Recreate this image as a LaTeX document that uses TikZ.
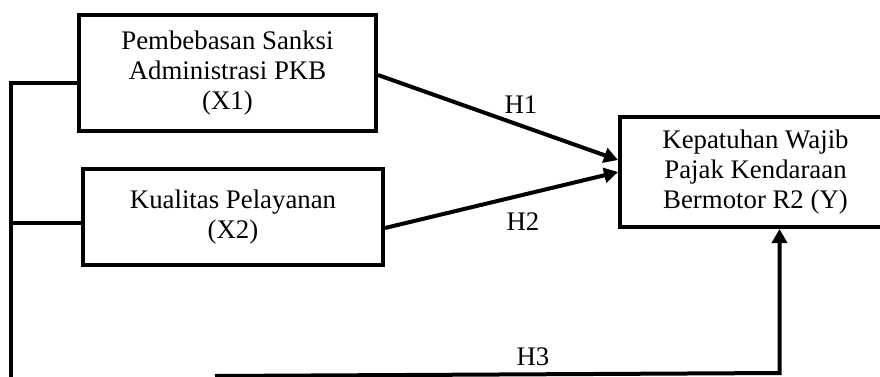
\documentclass[tikz,border=0pt]{standalone}
\usepackage{fontspec}
\setmainfont{Liberation Serif}
\usetikzlibrary{arrows.meta}
\begin{document}
\begin{tikzpicture}[x=1pt,y=-1pt,
  varbox/.style={draw, line width=4pt, align=center, inner sep=0pt,
    font=\fontsize{26.8}{30}\selectfont},
  conn/.style={line width=4pt},
  arr/.style={conn, -{Triangle[length=14pt,width=15pt]}},
  lbl/.style={font=\fontsize{26.8}{30}\selectfont, inner sep=0pt, align=center}]
\useasboundingbox (0,0) rectangle (880,376);
\clip (0,0) rectangle (880,376);
\node[varbox, minimum width=297pt, minimum height=116pt] (x1) at (227.5,73)
  {Pembebasan Sanksi\\Administrasi PKB\\(X1)};
\node[varbox, minimum width=300pt, minimum height=96pt] (x2) at (233,217)
  {Kualitas Pelayanan\\(X2)};
\node[varbox, minimum width=300pt, minimum height=110pt] (y) at (770,172) {};
\node[lbl] (yt) at (755.5,172) {Kepatuhan Wajib\\Pajak Kendaraan\\Bermotor R2 (Y)};
\coordinate (lb) at (10.5,380);
\coordinate (b1) at (215,376);
\coordinate (b2) at (779.5,373);
\draw[conn] ([yshift=-9.5pt]x1.west) -| (lb);
\draw[conn] ([yshift=-6pt]x2.west) -- ([yshift=-6pt]x2.west -| lb);
\draw[arr] ([yshift=-2pt]x1.east) -- ([yshift=12pt]y.west);
\draw[arr] ([yshift=-11pt]x2.east) -- (y.west);
\draw[arr] (b1) -- (b2) -- (b2 |- y.south);
\node[lbl] (h1) at (521,105) {H1};
\node[lbl] (h2) at (523,222) {H2};
\node[lbl] (h3) at (533,357) {H3};
\end{tikzpicture}
\end{document}
